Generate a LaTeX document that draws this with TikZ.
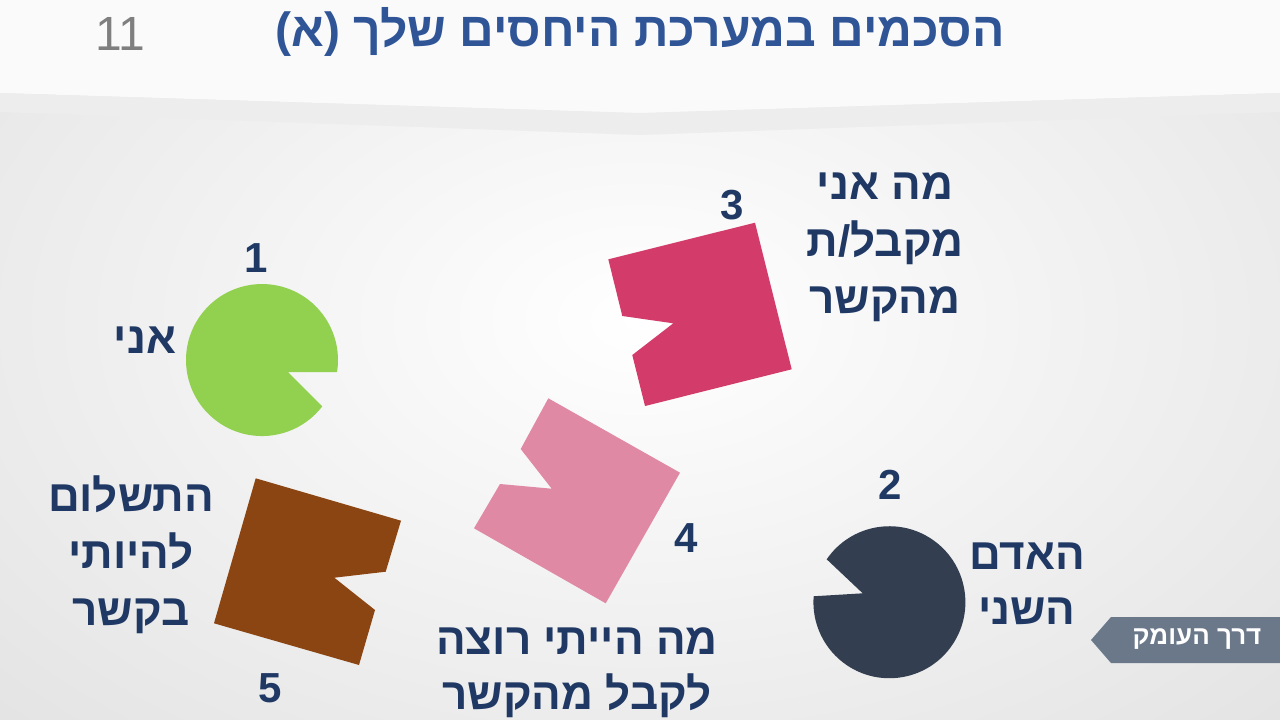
\documentclass[tikz,border=0pt]{standalone}
\usepackage{fontspec}
\setmainfont{Liberation Sans}
\newfontfamily\hebfont[Script=Hebrew]{Liberation Sans}
\TeXXeTstate=1
\usepackage{xcolor}
\usepackage{tikz}
\definecolor{navy}{HTML}{1F3864}
\definecolor{titleblue}{HTML}{2F5597}
\definecolor{pagegray}{HTML}{7F7F7F}
\definecolor{bggray}{HTML}{D9D9D9}
\definecolor{bandgray}{HTML}{EDEDED}
\definecolor{topwhite}{HTML}{FAFAFA}
\definecolor{limegreen}{HTML}{92D050}
\definecolor{rosered}{HTML}{D33B6A}
\definecolor{softpink}{HTML}{E089A4}
\definecolor{rust}{HTML}{8B4513}
\definecolor{slate}{HTML}{333F50}
\definecolor{tagblue}{HTML}{6B788A}
\newcommand{\heb}[1]{{\hebfont\beginR #1\endR}}

\begin{document}
\begin{tikzpicture}[
     x = 1pt, y = -1pt,
     every node/.style = {
     	inner sep = 0pt, navy, align = center,
     	font = \bfseries\fontsize{44}{55}\selectfont},
     num/.style = {font = \bfseries\fontsize{42}{42}\selectfont}
     ]
     \useasboundingbox (0,0) rectangle (1280,720);

       % background
       \begin{scope}
       \clip (0,0) rectangle (1280,720);
       \fill[bggray] (0,0) rectangle (1280,720);
       \shade[inner color=white, outer color=bggray] (640,320) ellipse [x radius=1250, y radius=800];
       \fill[topwhite] (0,0) -- (1280,0) -- (1280,93) -- (640,113) -- (0,93) -- cycle;
       \fill[bandgray] (0,93) -- (640,113) -- (1280,93) -- (1280,112) -- (640,135) -- (0,112) -- cycle;
       \end{scope}

       % shapes
       \fill[limegreen] (288,372) -- (322.3,406.3) arc[start angle=37.5, end angle=369.1, radius=76] -- cycle;
       \fill[slate] (862.7,593.3) -- (826.7,559.3) arc[start angle=214.4, end angle=544.5, radius=76] -- cycle;
       \fill[rosered] (608.3,259.3) -- (755,222.7) -- (791.7,369.3) -- (645,406)
           -- (632.3,355) -- (673.3,323.3) -- (622.3,316) -- cycle;
       \fill[softpink] (548.3,398.3) -- (680,472.7) -- (605.7,603.3) -- (474,528.3)
           -- (500,484) -- (551.7,488.7) -- (520.7,449) -- cycle;
       \fill[rust] (255.7,478.3) -- (401,520.7) -- (385.7,571.7) -- (334.3,577.7)
           -- (375,610) -- (359,665) -- (214,623.3) -- cycle;

       % texts
       \node (P) at (120,34) {\fontsize{48}{48}\mdseries\color{pagegray}11};
       \node (T) at (640,32) {\fontsize{48}{48}\selectfont\color{titleblue}\heb{הסכמים במערכת היחסים שלך (א)}};
       \node[num] (N1) at (256,258) {1}; % 1
       \node[num] (N2) at (890,485) {2}; % 2
       \node[num] (N3) at (732,205) {3}; % 3
       \node[num] (N4) at (686,538) {4}; % 4
       \node[num] (N5) at (270,688) {5}; % 5
       \node (L1) at (145,340) {\heb{אני}};
       \node (L2) at (1027,584) {\heb{האדם}\\\heb{השני}};
       \node[font = \bfseries\fontsize{44}{57}\selectfont] (L3) at (885,247) {\heb{מה אני}\\\heb{מקבל/ת}\\\heb{מהקשר}};
       \node (L4) at (577,673) {\heb{מה הייתי רוצה}\\\heb{לקבל מהקשר}};
       \node[font = \bfseries\fontsize{44}{57}\selectfont] (L5) at (131,555) {\heb{התשלום}\\\heb{להיותי}\\\heb{בקשר}};
       \fill[tagblue] (1091,640) -- (1111,617) -- (1280,617) -- (1280,663) -- (1111,663) -- cycle;
       \node (tag) at (1197,639) {\fontsize{26}{26}\selectfont\color{white}\heb{דרך העומק}};

\end{tikzpicture}
\end{document}
